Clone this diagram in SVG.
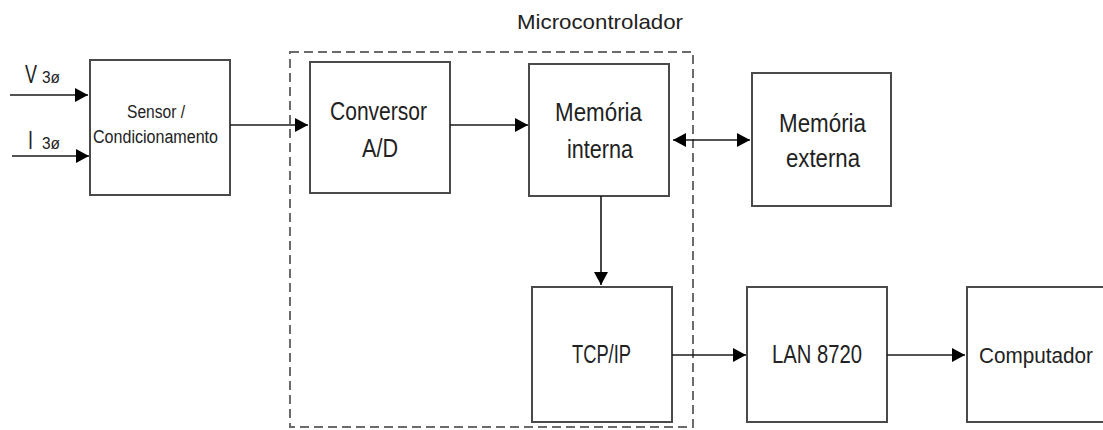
<svg xmlns="http://www.w3.org/2000/svg" width="1103" height="430" viewBox="0 0 1103 430">
  <style>
    .box { fill: #ffffff; stroke: #4a4a4a; stroke-width: 2; }
    .frame { fill: none; stroke: #6b6b6b; stroke-width: 2; stroke-dasharray: 9 5; }
    .wire { fill: none; stroke: #1a1a1a; stroke-width: 1.6; }
    .lbl { font-family: "Liberation Sans", Arial, sans-serif; fill: #222222; }
    .big { font-size: 25px; }
    .mid { font-size: 18px; }
    .sub { font-size: 16px; }
  </style>
  <defs>
    <marker id="head" markerUnits="userSpaceOnUse" markerWidth="14" markerHeight="14" refX="13" refY="7" orient="auto">
      <path d="M0,0 L13,7 L0,14 Z" fill="#000"/>
    </marker>
    <marker id="tail" markerUnits="userSpaceOnUse" markerWidth="14" markerHeight="14" refX="0" refY="7" orient="auto">
      <path d="M13,0 L0,7 L13,14 Z" fill="#000"/>
    </marker>
  </defs>
  <rect width="1103" height="430" fill="#ffffff"/>

  <!-- microcontroller boundary -->
  <g id="microcontrolador">
    <rect class="frame" x="290" y="52" width="403" height="375"/>
    <text class="lbl" x="517" y="29" font-size="21" textLength="166" lengthAdjust="spacingAndGlyphs">Microcontrolador</text>
  </g>

  <g id="entradas">
    <text class="lbl" x="25" y="83" font-size="25" textLength="12" lengthAdjust="spacingAndGlyphs">V</text>
    <text class="lbl sub" x="42" y="83" textLength="18" lengthAdjust="spacingAndGlyphs">3ø</text>
    <text class="lbl" x="28" y="149" font-size="25" textLength="5" lengthAdjust="spacingAndGlyphs">I</text>
    <text class="lbl sub" x="42" y="149" textLength="18" lengthAdjust="spacingAndGlyphs">3ø</text>
  </g>

  <g id="sensor">
    <rect class="box" x="90" y="60" width="140" height="135"/>
    <text class="lbl mid" x="127" y="118" textLength="58" lengthAdjust="spacingAndGlyphs">Sensor /</text>
    <text class="lbl mid" x="93" y="143" textLength="125" lengthAdjust="spacingAndGlyphs">Condicionamento</text>
  </g>

  <g id="conversor">
    <rect class="box" x="310" y="62" width="140" height="131"/>
    <text class="lbl big" x="330" y="120" textLength="97" lengthAdjust="spacingAndGlyphs">Conversor</text>
    <text class="lbl big" x="362" y="157" textLength="36" lengthAdjust="spacingAndGlyphs">A/D</text>
  </g>

  <g id="memoria-interna">
    <rect class="box" x="529" y="64" width="140" height="132"/>
    <text class="lbl big" x="555" y="121" textLength="87" lengthAdjust="spacingAndGlyphs">Memória</text>
    <text class="lbl big" x="567" y="158" textLength="66" lengthAdjust="spacingAndGlyphs">interna</text>
  </g>

  <g id="memoria-externa">
    <rect class="box" x="752" y="73" width="139" height="133"/>
    <text class="lbl big" x="779" y="132" textLength="87" lengthAdjust="spacingAndGlyphs">Memória</text>
    <text class="lbl big" x="786" y="167" textLength="74" lengthAdjust="spacingAndGlyphs">externa</text>
  </g>

  <g id="tcp-ip">
    <rect class="box" x="532" y="287" width="140" height="135"/>
    <text class="lbl big" x="572" y="363" textLength="59" lengthAdjust="spacingAndGlyphs">TCP/IP</text>
  </g>

  <g id="lan8720">
    <rect class="box" x="747" y="287" width="140" height="135"/>
    <text class="lbl big" x="772" y="363" textLength="90" lengthAdjust="spacingAndGlyphs">LAN 8720</text>
  </g>

  <!-- the computer block runs past the right edge, so only three sides show -->
  <g id="computador">
    <path class="box" d="M1103,287 H967 V422 H1103"/>
    <text class="lbl" x="979" y="363" font-size="21.5" textLength="114" lengthAdjust="spacingAndGlyphs">Computador</text>
  </g>

  <!-- connectors -->
  <g id="conexoes">
    <line class="wire" x1="10" y1="95" x2="88" y2="95" marker-end="url(#head)"/>
    <line class="wire" x1="12" y1="156" x2="89" y2="156" marker-end="url(#head)"/>
    <line class="wire" x1="230" y1="125" x2="308" y2="125" marker-end="url(#head)"/>
    <line class="wire" x1="450" y1="125" x2="528" y2="125" marker-end="url(#head)"/>
    <line class="wire" x1="673" y1="140" x2="750" y2="140" marker-start="url(#tail)" marker-end="url(#head)"/>
    <line class="wire" x1="601" y1="196" x2="601" y2="285" marker-end="url(#head)"/>
    <line class="wire" x1="672" y1="355" x2="746" y2="355" marker-end="url(#head)"/>
    <line class="wire" x1="887" y1="355" x2="965" y2="355" marker-end="url(#head)"/>
  </g>
</svg>
